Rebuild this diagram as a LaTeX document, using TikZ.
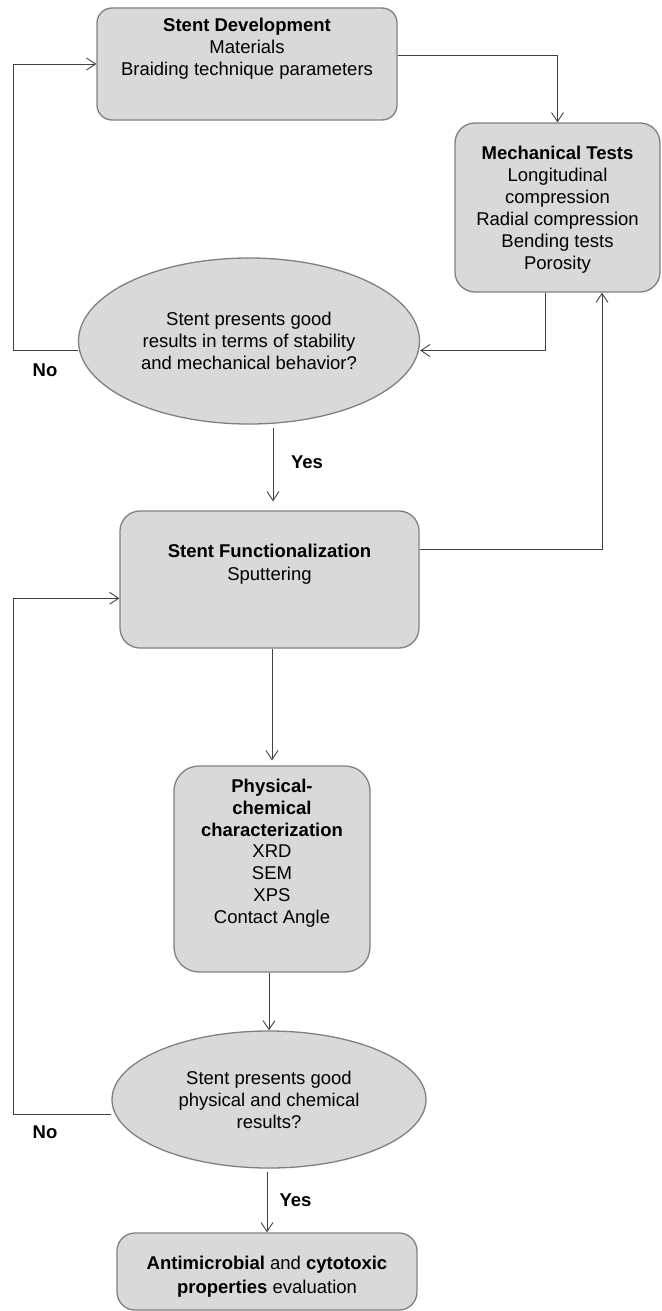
\documentclass[tikz,border=0pt]{standalone}
\usepackage{fontspec}
\setmainfont{Liberation Sans}
\usetikzlibrary{arrows.meta,positioning,calc,shapes.geometric}
\definecolor{boxgray}{HTML}{D9D9D9}
\definecolor{edgegray}{HTML}{808080}
\definecolor{linegray}{HTML}{404040}
\newcommand{\boxtext}[4]{\parbox[c][#2][t]{#1}{\centering\vspace*{#3}#4}}

\begin{document}
\begin{tikzpicture}[x=1pt, y=-1pt,
  font=\fontsize{18.5}{22}\selectfont,
  stepbox/.style={fill=boxgray, draw=edgegray, line width=1.3pt, rounded corners=#1, inner sep=0pt},
  stepbox/.default=18pt,
  testell/.style={ellipse, fill=boxgray, draw=edgegray, line width=1.3pt, inner sep=0pt, align=center},
  arr/.style={-{Straight Barb[length=9pt,width=12pt]}, draw=linegray, line width=0.9pt},
  answer/.style={font=\fontsize{18.5}{22}\selectfont\bfseries}]
  \useasboundingbox (0,0) rectangle (661,1311);

  \node (dev) [stepbox=15pt] at (247,64) {\boxtext{300pt}{112pt}{10pt}{\textbf{Stent Development}\\Materials\\Braiding technique parameters}};
  \node (mech) [stepbox=20pt] at (557.5,207.5) {\boxtext{205pt}{169pt}{23pt}{\textbf{Mechanical Tests}\\Longitudinal\\compression\\Radial compression\\Bending tests\\Porosity}};
  \node (ecomp) [testell, minimum width=341pt, minimum height=166pt] at (249,341) {Stent presents good\\results in terms of stability\\and mechanical behavior?};
  \node (func) [stepbox=20pt] at (269.5,579.5) {\boxtext{299pt}{137pt}{33pt}{\fontsize{18.5}{23.5}\selectfont\textbf{Stent Functionalization}\\Sputtering}};
  \node (phys) [stepbox=25pt] at (272,869) {\boxtext{196pt}{206pt}{13pt}{\fontsize{18.5}{21.8}\selectfont\textbf{Physical-}\\\textbf{chemical}\\\textbf{characterization}\\XRD\\SEM\\XPS\\Contact Angle}};
  \node (eprop) [testell, minimum width=314pt, minimum height=137pt] at (269,1099.5) {Stent presents good\\physical and chemical\\results?};
  \node (final) [stepbox=18pt] at (267,1271.5) {\boxtext{300pt}{77pt}{23pt}{\fontsize{18.5}{24}\selectfont\textbf{Antimicrobial} and \textbf{cytotoxic}\\\textbf{properties} evaluation}};

  \coordinate (noA) at (13,350.5);
  \coordinate (noB) at (13,1114.3);
  \coordinate (yesA) at (273,428);
  \coordinate (yesB) at (267,1172);

  \draw [arr] ([yshift=9pt]dev.east) -| (mech.north);
  \draw [arr] ([xshift=-12.5pt]mech.south) |- ([yshift=-9.5pt]ecomp.east);
  \draw [arr] ([yshift=-9.5pt]ecomp.west) -- (noA) |- (dev.west);
  \draw [arr, shorten >=9pt] (yesA) -- (yesA |- func.north);
  \draw [arr] ([yshift=30pt]func.east) -| ([xshift=44.5pt]mech.south);
  \draw [arr, shorten >=5pt] (phys.north |- func.south) -- (phys.north);
  \draw [arr] (eprop.north |- phys.south) -- (eprop.north);
  \draw [arr] ([yshift=-14.8pt]eprop.west) -- (noB) |- ([yshift=-18.8pt]func.west);
  \draw [arr] (yesB) -- (yesB |- final.north);

  \node (noa) [answer] at (45,370) {No};
  \node (yesa) [answer] at (307,462) {Yes};
  \node (nob) [answer] at (45,1132.7) {No};
  \node (yesb) [answer] at (295.5,1200) {Yes};
\end{tikzpicture}
\end{document}
